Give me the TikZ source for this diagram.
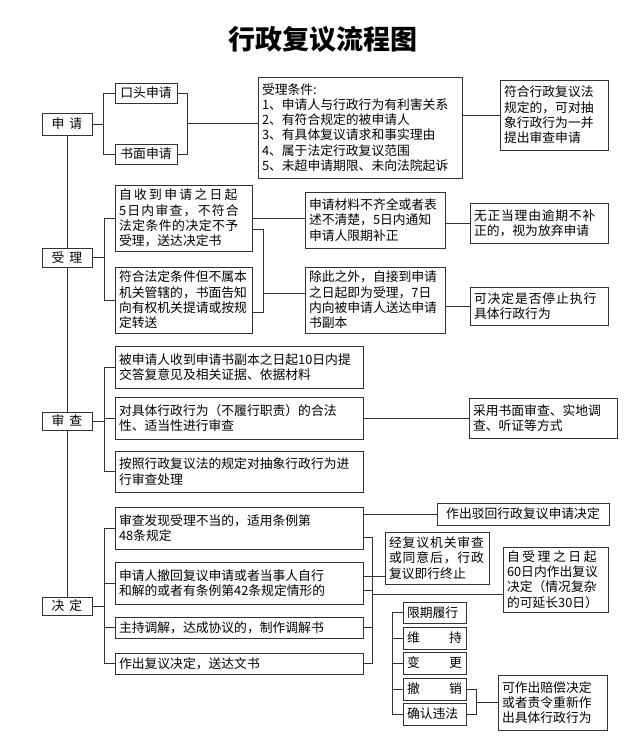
\documentclass[tikz,border=0pt]{standalone}
\usepackage{fontspec}
\setmainfont{Noto Sans CJK SC}
\tikzset{
  box/.style={draw=black!80, line width=0.9pt, fill=white, inner xsep=4pt, inner ysep=0pt, align=left, font=\fontsize{12.8}{15.3}\selectfont},
  cbox/.style={align=center},
  conn/.style={draw=black!80, line width=0.8pt},
}
\newcommand\drawbox[7][]{%
  \pgfmathsetmacro\bxw{#5-#3}%
  \pgfmathsetmacro\bxh{#6-#4}%
  \pgfmathsetmacro\bxt{#5-#3-8}%
  \node[box,minimum width=\bxw pt,minimum height=\bxh pt,text width=\bxt pt,#1] (#2) at ({(#3+#5)/2},{(#4+#6)/2}) {#7};}
\newcommand\ls[2]{{\addfontfeature{LetterSpace=#1}#2}}
\begin{document}
\begin{tikzpicture}[x=1pt,y=-1pt]
\fill[white] (0,0) rectangle (636,751);
\useasboundingbox (0,0) rectangle (636,751);
\node (title) at (323,39) {\fontsize{27}{30}\selectfont\bfseries 行政复议流程图};
% 申请
\drawbox[cbox]{sq}{42}{113}{92}{135}{申\hspace{5pt}请}
\drawbox[cbox]{kt}{115}{83}{177}{103}{口头申请}
\drawbox[cbox]{sm}{115}{144}{177}{164}{书面申请}
\drawbox{cond}{258}{77}{462}{178}{受理条件:\\1、申请人与行政行为有利害关系\\2、有符合规定的被申请人\\3、有具体复议请求和事实理由\\4、属于法定行政复议范围\\5、未超申请期限、未向法院起诉}
\drawbox{rb}{500}{80}{608}{150}{符合行政复议法\\规定的，可对抽\\象行政行为一并\\提出审查申请}
% 受理
\drawbox[cbox]{sl}{42}{248}{92}{267}{受\hspace{5pt}理}
\drawbox{ba}{115}{185}{252}{251}{\ls{18}{自收到申请之日起}\\\ls{10}{5日内审查，不符合}\\\ls{4}{法定条件的决定不予}\\受理，送达决定书}
\drawbox{bb}{115}{267}{252}{333}{符合法定条件但不属本\\机关管辖的，书面告知\\向有权机关提请或按规\\定转送}
\drawbox{sqcl}{305}{192}{445}{248}{申请材料不齐全或者表\\述不清楚，5日内通知\\申请人限期补正}
\drawbox{wz}{470}{203}{608}{243}{\ls{6}{无正当理由逾期不补}\\正的，视为放弃申请}
\drawbox{cc}{305}{267}{445}{333}{除此之外，自接到申请\\之日起即为受理，7日\\内向被申请人送达申请\\书副本}
\drawbox{kj}{470}{287}{608}{325}{\ls{7}{可决定是否停止执行}\\具体行政行为}
% 审查
\drawbox[cbox]{sc}{42}{412}{92}{430}{审\hspace{5pt}查}
\drawbox{ca}{115}{346}{363}{388}{被申请人收到申请书副本之日起10日内提\\交答复意见及相关证据、依据材料}
\drawbox{cb}{115}{397}{363}{439}{对具体行政行为（不履行职责）的合法\\性、适当性进行审查}
\drawbox{cd}{115}{451}{363}{492}{按照行政复议法的规定对抽象行政行为进\\行审查处理}
\drawbox{cy}{469}{398}{617}{438}{采用书面审查、实地调\\查、听证等方式}
% 决定
\drawbox[cbox]{jd}{42}{597}{92}{615}{决\hspace{5pt}定}
\drawbox{da}{115}{507}{363}{549}{审查发现受理不当的，适用条例第\\48条规定}
\drawbox{db}{115}{562}{363}{604}{申请人撤回复议申请或者当事人自行\\和解的或者有条例第42条规定情形的}
\drawbox{dc}{115}{617}{363}{638}{主持调解，达成协议的，制作调解书}
\drawbox{dd}{115}{653}{363}{674}{作出复议决定，送达文书}
\drawbox[cbox]{bh}{437}{503}{609}{525}{作出驳回行政复议申请决定}
\drawbox{jf}{385}{532}{489}{584}{\ls{7}{经复议机关审查}\\\ls{7}{或同意后，行政}\\复议即行终止}
\drawbox{zs}{503}{547}{608}{612}{\ls{20}{自受理之日起}\\60日内作出复议\\决定（情况复杂\\的可延长30日）}
\drawbox{xq}{403}{602}{466}{623}{限期履行}
\drawbox{wc}{403}{627}{466}{649}{维\hfill 持}
\drawbox{bg}{403}{652}{466}{674}{变\hfill 更}
\drawbox{cx}{403}{678}{466}{700}{撤\hfill 销}
\drawbox{qr}{403}{703}{466}{725}{确认违法}
\drawbox{kz}{498}{675}{607}{730}{可作出赔偿决定\\或者责令重新作\\出具体行政行为}
% trunk
\draw[conn] (sq.south) -- (sl.north);
\draw[conn] (sl.south) -- (sc.north);
\draw[conn] (sc.south) -- (jd.north);
% 申请 connectors
\coordinate (b1) at (103,0);
\coordinate (b2) at (187,0);
\draw[conn] (kt.west) -- (kt.west -| b1) -- (sm.west -| b1) -- (sm.west);
\draw[conn] (sq.east) -- (sq.east -| b1);
\draw[conn] (kt.east) -- (kt.east -| b2) -- (sm.east -| b2) -- (sm.east);
\coordinate (o2) at (187,123);
\draw[conn] (o2) -- (o2 -| cond.west);
\draw[conn] (rb.west -| cond.east) -- (rb.west);
% 受理 connectors
\coordinate (b3) at (104,0);
\draw[conn] (ba.west) -- (ba.west -| b3) -- (bb.west -| b3) -- (bb.west);
\draw[conn] (sl.east) -- (sl.east -| b3);
\draw[conn] (ba.east) -- (ba.east -| sqcl.west);
\coordinate (b4) at (263,0);
\coordinate (ba2) at ([yshift=-11pt]ba.east);
\coordinate (bb2) at ([yshift=-12pt]bb.east);
\draw[conn] (ba2) -- (ba2 -| b4) -- (bb2 -| b4) -- (bb2);
\coordinate (o4) at (263,293);
\draw[conn] (o4) -- (o4 -| cc.west);
\draw[conn] (wz.west -| sqcl.east) -- (wz.west);
\draw[conn] (kj.west -| cc.east) -- (kj.west);
% 审查 connectors
\draw[conn] (ca.west) -- (ca.west -| b3) -- (cd.west -| b3) -- (cd.west);
\draw[conn] (cb.west) -- (cb.west -| b3);
\draw[conn] (sc.east) -- (sc.east -| b3);
\draw[conn] (cb.east) -- (cb.east -| cy.west);
% 决定 connectors
\draw[conn] (da.west) -- (da.west -| b3) -- (dd.west -| b3) -- (dd.west);
\draw[conn] (db.west) -- (db.west -| b3);
\draw[conn] (dc.west) -- (dc.west -| b3);
\draw[conn] (jd.east) -- (jd.east -| b3);
\draw[conn] (bh.west -| da.east) -- (bh.west);
\coordinate (b6) at (372,0);
\coordinate (da2) at ([yshift=-9pt]da.east);
\coordinate (db2) at ([yshift=-7pt]db.east);
\coordinate (db3) at ([yshift=7pt]db.east);
\draw[conn] (da2) -- (da2 -| b6) -- (dd.east -| b6) -- (dd.east);
\draw[conn] (db2) -- (db2 -| b6);
\draw[conn] (dc.east) -- (dc.east -| b6);
\draw[conn] (db3) -- (db3 -| jf.west);
\coordinate (o6) at (372,594);
\draw[conn] (o6) -- (o6 -| zs.west);
% result column
\coordinate (b7) at (392,0);
\draw[conn] (xq.west) -- (xq.west -| b7) -- (qr.west -| b7) -- (qr.west);
\draw[conn] (wc.west) -- (wc.west -| b7);
\draw[conn] (bg.west) -- (bg.west -| b7);
\draw[conn] (cx.west) -- (cx.west -| b7);
\coordinate (b8) at (476,0);
\draw[conn] (cx.east) -- (cx.east -| b8) -- (qr.east -| b8) -- (qr.east);
\draw[conn] (kz.west -| b8) -- (kz.west);
\end{tikzpicture}
\end{document}
